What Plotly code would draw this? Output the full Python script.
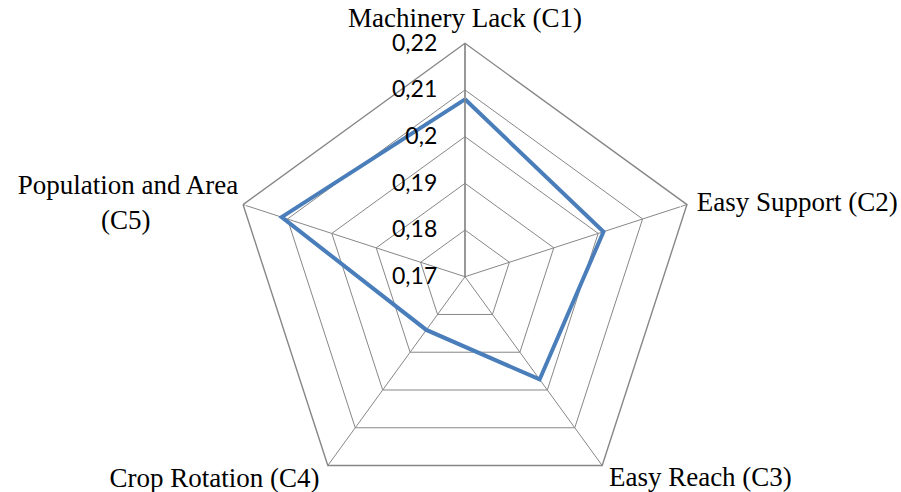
import plotly.graph_objects as go

# Criteria (axes of the radar) and their weights
criteria = ["C1", "C2", "C3", "C4", "C5"]
criteria_names = [
    "Machinery Lack (C1)",
    "Easy Support (C2)",
    "\u00a0Easy Reach (C3)",
    "Crop Rotation (C4)\u00a0",
    "Population and Area<br>(C5)" + "\u00a0" * 13,
]
weights = [0.208, 0.2012, 0.1972, 0.1841, 0.2113]

# Radial scale ticks (comma decimal separator)
tick_values = [0.17, 0.18, 0.19, 0.20, 0.21, 0.22]
tick_labels = ["0,17", "0,18", "0,19", "0,2", "0,21", "0,22"]

W, H = 901, 530
cx, cy, R = 465.0, 276.7, 233.4

grid_col = "#878787"
r_max = tick_values[-1]

fig = go.Figure()
fig.add_trace(go.Scatterpolar(
    r=weights + weights[:1],
    theta=criteria + criteria[:1],
    mode="lines",
    line=dict(color="#4A7EBB", width=4),
    hoverinfo="r+theta",
    showlegend=False,
))

# Criterion names placed at the outer vertices of the web
fig.add_trace(go.Scatterpolar(
    r=[r_max] * len(criteria),
    theta=criteria,
    mode="markers+text",
    text=criteria_names,
    textposition=["top center", "middle right", "bottom right", "bottom left", "middle left"],
    textfont=dict(family="Liberation Serif", size=27, color="black"),
    marker=dict(size=[14, 14, 0, 1, 6], color="rgba(0,0,0,0)"),
    cliponaxis=False,
    hoverinfo="skip",
    showlegend=False,
))

fig.update_layout(
    width=W,
    height=H,
    margin=dict(l=0, r=0, t=0, b=0),
    paper_bgcolor="white",
    plot_bgcolor="white",
    separators=",.",
    polar=dict(
        domain=dict(
            x=[(cx - R) / W, (cx + R) / W],
            y=[(H - cy - R) / H, (H - cy + R) / H],
        ),
        bgcolor="white",
        gridshape="linear",
        angularaxis=dict(
            rotation=90,
            direction="clockwise",
            showline=True,
            linecolor=grid_col,
            linewidth=1.4,
            gridcolor=grid_col,
            gridwidth=1.4,
            ticks="",
            showticklabels=False,
        ),
        radialaxis=dict(
            range=[tick_values[0], r_max],
            angle=90,
            tickangle=90,
            side="counterclockwise",
            tickvals=tick_values,
            ticktext=tick_labels,
            showline=True,
            linecolor=grid_col,
            linewidth=1.4,
            gridcolor=grid_col,
            gridwidth=1.4,
            ticks="outside",
            ticklen=19,
            tickcolor="rgba(0,0,0,0)",
            tickfont=dict(family="Lato", size=23, color="black"),
        ),
    ),
)

fig.write_html(
    "out.html",
    post_script="document.body.style.margin='0';document.body.style.overflow='hidden';"
                "document.documentElement.style.overflow='hidden';",
)
